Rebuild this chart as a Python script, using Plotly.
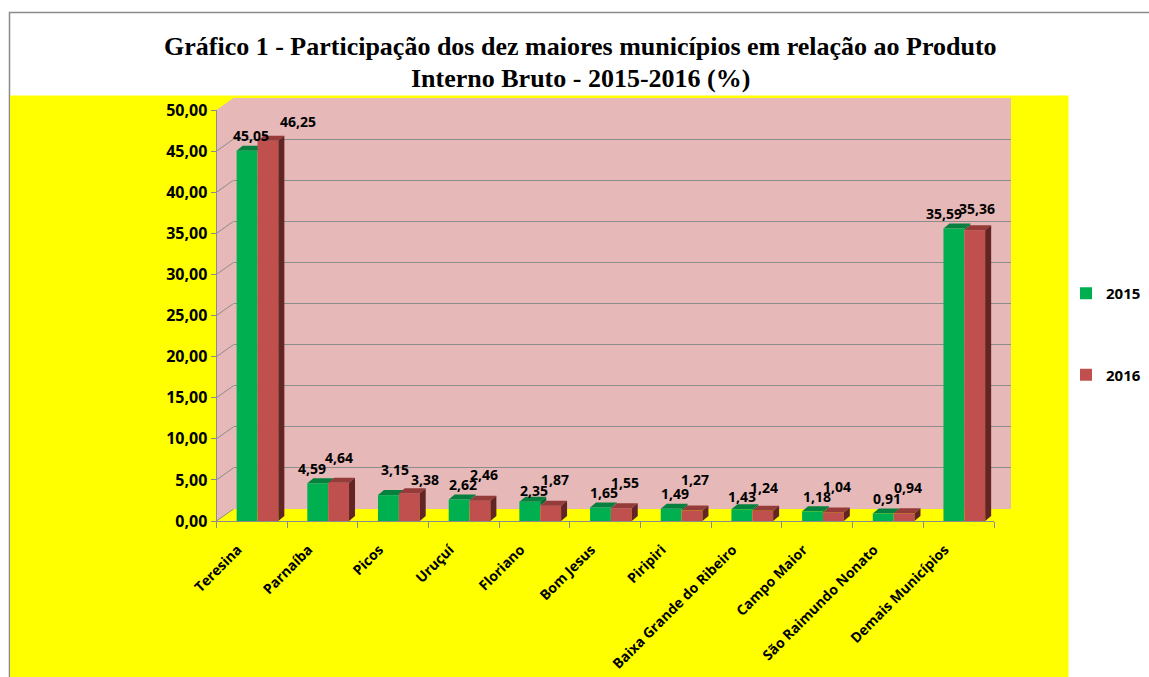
import plotly.graph_objects as go

# ---------------- data ----------------
categories = ["Teresina", "Parnaíba", "Picos", "Uruçuí", "Floriano", "Bom Jesus",
              "Piripiri", "Baixa Grande do Ribeiro", "Campo Maior",
              "São Raimundo Nonato", "Demais Municípios"]
values_2015 = [45.05, 4.59, 3.15, 2.62, 2.35, 1.65, 1.49, 1.43, 1.18, 0.91, 35.59]
values_2016 = [46.25, 4.64, 3.38, 2.46, 1.87, 1.55, 1.27, 1.24, 1.04, 0.94, 35.36]
series_names = ["2015", "2016"]
title_lines = ["Gráfico 1 - Participação dos dez maiores municípios em relação ao Produto",
               "Interno Bruto - 2015-2016 (%)"]

# ---------------- layout constants (pixels) ----------------
W, H = 1149, 677
FX0, FX1 = 216.5, 994.0      # front plot x extent
FY0, FY50 = 521.0, 110.0     # front plot y for 0 and 50
BDX, BDY = 17.0, 12.0        # back wall offset
BAR_DX, BAR_DY = 6.0, 5.0    # bar depth
LABEL_DX = -14.0             # category label shift (px)
YMAX = 50
GREEN, GREEN_TOP = "#00B050", "#06803E"
RED, RED_TOP, RED_SIDE = "#C0504D", "#953B39", "#632523"
GRID = "#8C8C8C"
PINK = "#E6B8B7"
YELLOW = "#FFFF00"
SANS = "Open Sans"

def fx(px):
    return px / W

def fy(py):
    return 1 - py / H

n = len(categories)
cat_px = (FX1 - FX0) / n
unit_px = (FY0 - FY50) / YMAX
ddx = BAR_DX / cat_px
ddy = BAR_DY / unit_px
sdx = BDX / cat_px
sdy = BDY / unit_px

BAR_W = 0.295
OFF_G = -0.215
OFF_R = OFF_G + BAR_W

idx = list(range(n))
fmt = lambda v: f"{v:.2f}".replace(".", ",")

fig = go.Figure()

# back wall subplot (x / y) - only for gridlines
fig.add_trace(go.Scatter(x=[None], y=[None], xaxis="x", yaxis="y",
                         showlegend=False, hoverinfo="skip"))
# boundary tick axis
fig.add_trace(go.Scatter(x=[None], y=[None], xaxis="x3", yaxis="y2",
                         showlegend=False, hoverinfo="skip"))

fig.add_trace(go.Bar(x=idx, y=values_2015, name=series_names[0], xaxis="x2", yaxis="y2",
                     offset=OFF_G, width=BAR_W, marker=dict(color=GREEN, line=dict(width=0)),
                     legendgroup="a", hoverinfo="skip"))
fig.add_trace(go.Bar(x=idx, y=values_2016, name=series_names[1], xaxis="x2", yaxis="y2",
                     offset=OFF_R, width=BAR_W, marker=dict(color=RED, line=dict(width=0)),
                     legendgroup="b", hoverinfo="skip"))

shapes = []
# outer frame and yellow plot area
shapes.append(dict(type="rect", xref="paper", yref="paper", x0=fx(9.5), x1=fx(W + 5),
                   y0=fy(H + 5), y1=fy(12.5), line=dict(color="#8A8A8A", width=1.5),
                   fillcolor="white", layer="below"))
shapes.append(dict(type="rect", xref="paper", yref="paper", x0=fx(10), x1=fx(1068.5),
                   y0=fy(H + 5), y1=fy(95.5), line=dict(width=0),
                   fillcolor=YELLOW, layer="below"))
# pink side + back wall
wall = (f"M {fx(FX0)},{fy(FY0)} L {fx(FX0)},{fy(FY50)} L {fx(FX0 + BDX)},{fy(FY50 - BDY)} "
        f"L {fx(FX1 + BDX)},{fy(FY50 - BDY)} L {fx(FX1 + BDX)},{fy(FY0 - BDY)} "
        f"L {fx(FX0 + BDX)},{fy(FY0 - BDY)} Z")
shapes.append(dict(type="path", xref="paper", yref="paper", path=wall,
                   fillcolor=PINK, line=dict(width=0), layer="below"))

# side-wall diagonals at each tick and floor right edge
for v in range(0, YMAX + 1, 5):
    shapes.append(dict(type="line", xref="x2", yref="y2", x0=-0.5, x1=-0.5 + sdx,
                       y0=v, y1=v + sdy, line=dict(color=GRID, width=1), layer="above"))
shapes.append(dict(type="line", xref="x2", yref="y2", x0=n - 0.5, x1=n - 0.5 + sdx,
                   y0=0, y1=sdy, line=dict(color=GRID, width=1), layer="above"))

# 3D faces of bars
for i in idx:
    g, r = values_2015[i], values_2016[i]
    gx0, gx1 = i + OFF_G, i + OFF_G + BAR_W
    rx0, rx1 = i + OFF_R, i + OFF_R + BAR_W
    shapes.append(dict(type="path", xref="x2", yref="y2", layer="below",
                       path=f"M {gx0},{g} L {gx1},{g} L {gx1 + ddx},{g + ddy} L {gx0 + ddx},{g + ddy} Z",
                       fillcolor=GREEN_TOP, line=dict(width=0)))
    if g > r:
        shapes.append(dict(type="path", xref="x2", yref="y2", layer="below",
                           path=f"M {gx1},{r} L {gx1 + ddx},{r + ddy} L {gx1 + ddx},{g + ddy} L {gx1},{g} Z",
                           fillcolor="#056B34", line=dict(width=0)))
    shapes.append(dict(type="path", xref="x2", yref="y2", layer="above",
                       path=f"M {rx0},{r} L {rx1},{r} L {rx1 + ddx},{r + ddy} L {rx0 + ddx},{r + ddy} Z",
                       fillcolor=RED_TOP, line=dict(width=0)))
    shapes.append(dict(type="path", xref="x2", yref="y2", layer="above",
                       path=f"M {rx1},0 L {rx1 + ddx},{ddy} L {rx1 + ddx},{r + ddy} L {rx1},{r} Z",
                       fillcolor=RED_SIDE, line=dict(width=0)))

# data labels (pixel nudges mimic the original label placement)
nudge_2015 = {1: (-6, 15), 2: (7, 26), 4: (4, 11), 7: (0, 13), 10: (-10, 15)}
nudge_2016 = {0: (30, 19), 1: (0, 25), 2: (16, 14), 6: (3, 31), 7: (1, 23), 10: (2, 22)}
annotations = []
for i in idx:
    xs, ys = nudge_2015.get(i, (4, 15))
    annotations.append(dict(x=i + OFF_G + BAR_W / 2, y=values_2015[i], xref="x2", yref="y2",
                            text=fmt(values_2015[i]), showarrow=False, xshift=xs, yshift=ys,
                            font=dict(family=SANS, size=14, color="black", weight="bold")))
    xs, ys = nudge_2016.get(i, (4, 26))
    annotations.append(dict(x=i + OFF_R + BAR_W / 2, y=values_2016[i], xref="x2", yref="y2",
                            text=fmt(values_2016[i]), showarrow=False, xshift=xs, yshift=ys,
                            font=dict(family=SANS, size=14, color="black", weight="bold")))

# title
for k, (line, py) in enumerate(zip(title_lines, [47, 79])):
    annotations.append(dict(x=fx(580), y=fy(py), xref="paper", yref="paper", text=line,
                            showarrow=False, xanchor="center", yanchor="middle",
                            font=dict(family="Liberation Serif", size=26, color="black",
                                      weight="bold")))

fig.update_layout(
    template="none",
    width=W, height=H,
    margin=dict(l=0, r=0, t=0, b=0, pad=0, autoexpand=False),
    paper_bgcolor="white",
    plot_bgcolor="rgba(0,0,0,0)",
    separators=",.",
    barmode="overlay",
    shapes=shapes,
    annotations=annotations,
    showlegend=True,
    legend=dict(xref="container", yref="container", x=fx(1066), y=fy(277),
                xanchor="left", yanchor="top",
                bgcolor="rgba(0,0,0,0)", borderwidth=0, tracegroupgap=59, traceorder="grouped",
                font=dict(family=SANS, size=15, color="black", weight="bold")),
    xaxis=dict(domain=[fx(FX0 + BDX), fx(FX1 + BDX)], range=[-0.5, n - 0.5],
               anchor="y", showgrid=False, zeroline=False, showticklabels=False,
               showline=False, ticks="", automargin=False),
    yaxis=dict(domain=[fy(FY0 - BDY), fy(FY50 - BDY)], range=[0, YMAX], dtick=5,
               anchor="x", showgrid=True, gridcolor=GRID, gridwidth=1, zeroline=False,
               showticklabels=False, showline=False, ticks="", automargin=False),
    xaxis2=dict(domain=[fx(FX0), fx(FX1)], range=[-0.5, n - 0.5], anchor="y2",
                tickmode="array", tickvals=[i + LABEL_DX / cat_px for i in idx],
                ticktext=categories, tickangle=-45,
                ticks="outside", ticklen=14, tickcolor="rgba(0,0,0,0)",
                showgrid=False, zeroline=False, automargin=False,
                showline=True, linecolor=GRID, linewidth=1,
                tickfont=dict(family=SANS, size=14, color="black", weight="bold")),
    xaxis3=dict(overlaying="x2", anchor="y2", range=[-0.5, n - 0.5],
                tickmode="array", tickvals=[k - 0.5 for k in range(n + 1)],
                ticks="outside", ticklen=6, tickcolor=GRID, showticklabels=False,
                showgrid=False, zeroline=False, showline=False, automargin=False),
    yaxis2=dict(domain=[fy(FY0), fy(FY50)], range=[0, YMAX], dtick=5, anchor="x2",
                tickformat=".2f", ticks="outside", ticklen=5, tickcolor=GRID,
                showgrid=False, zeroline=False, showline=True, linecolor=GRID, linewidth=1,
                automargin=False,
                tickfont=dict(family=SANS, size=16, color="black", weight="bold")),
)

fig.write_html("out.html", config={"displayModeBar": False},
               post_script="document.body.style.margin='0';")
